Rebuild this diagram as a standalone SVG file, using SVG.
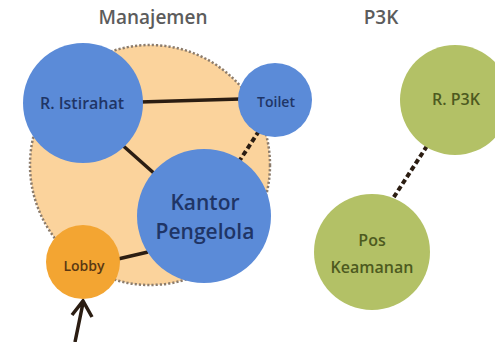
<svg xmlns="http://www.w3.org/2000/svg" width="495" height="342" viewBox="0 0 495 342">
<style>
.title{font-family:"Open Sans","Noto Sans",sans-serif;font-size:19px;font-weight:600;fill:#5c5c5c;text-anchor:middle}
.lbl{font-family:"Open Sans","Noto Sans",sans-serif;font-weight:600;text-anchor:middle}
.blue{fill:#5b8bd8}
.bt{fill:#1f3566}
.green{fill:#b3c166}
.gt{fill:#4d5a1f}
.solid{stroke:#2b1d12;stroke-width:3.5;fill:none}
.dash{stroke:#2b1d12;stroke-width:4;stroke-dasharray:5 3;fill:none}
</style>
<rect width="495" height="342" fill="#ffffff"/>
<text class="title" x="153" y="24">Manajemen</text>
<text class="title" x="381" y="24">P3K</text>
<g id="zona-manajemen">
<circle cx="150" cy="165" r="120" fill="#fbd39c" stroke="#8c7c6c" stroke-width="2.5" stroke-dasharray="2.2 2"/>
</g>
<g id="connectors">
<line class="solid" x1="140" y1="102" x2="240" y2="99"/>
<line class="solid" x1="120" y1="143" x2="156" y2="175"/>
<line class="dash" x1="259" y1="131" x2="240" y2="160"/>
<line class="solid" x1="118" y1="259" x2="148" y2="252"/>
<line class="dash" x1="427" y1="146" x2="392" y2="200"/>
<path class="solid" d="M75 342 L83 303 M72 315 L83 301 L92 317" stroke-width="3.5" stroke-linejoin="miter"/>
</g>
<g id="r-istirahat">
<circle class="blue" cx="83" cy="103" r="60"/>
<text class="lbl bt" x="82" y="109" font-size="16">R. Istirahat</text>
</g>
<g id="toilet">
<circle class="blue" cx="275" cy="100" r="37"/>
<text class="lbl bt" x="276" y="107" font-size="14">Toilet</text>
</g>
<g id="kantor-pengelola">
<circle class="blue" cx="204" cy="216" r="67"/>
<text class="lbl bt" x="205" y="210" font-size="21">Kantor</text>
<text class="lbl bt" x="205" y="239" font-size="21">Pengelola</text>
</g>
<g id="lobby">
<circle cx="83" cy="262" r="37" fill="#f3a532"/>
<text class="lbl" x="84" y="271" font-size="14" fill="#5a3812">Lobby</text>
</g>
<g id="r-p3k">
<circle class="green" cx="455" cy="100" r="55"/>
<text class="lbl gt" x="456" y="105" font-size="16">R. P3K</text>
</g>
<g id="pos-keamanan">
<circle class="green" cx="372" cy="252" r="58"/>
<text class="lbl gt" x="372" y="246" font-size="16">Pos</text>
<text class="lbl gt" x="372" y="273" font-size="16">Keamanan</text>
</g>
</svg>
